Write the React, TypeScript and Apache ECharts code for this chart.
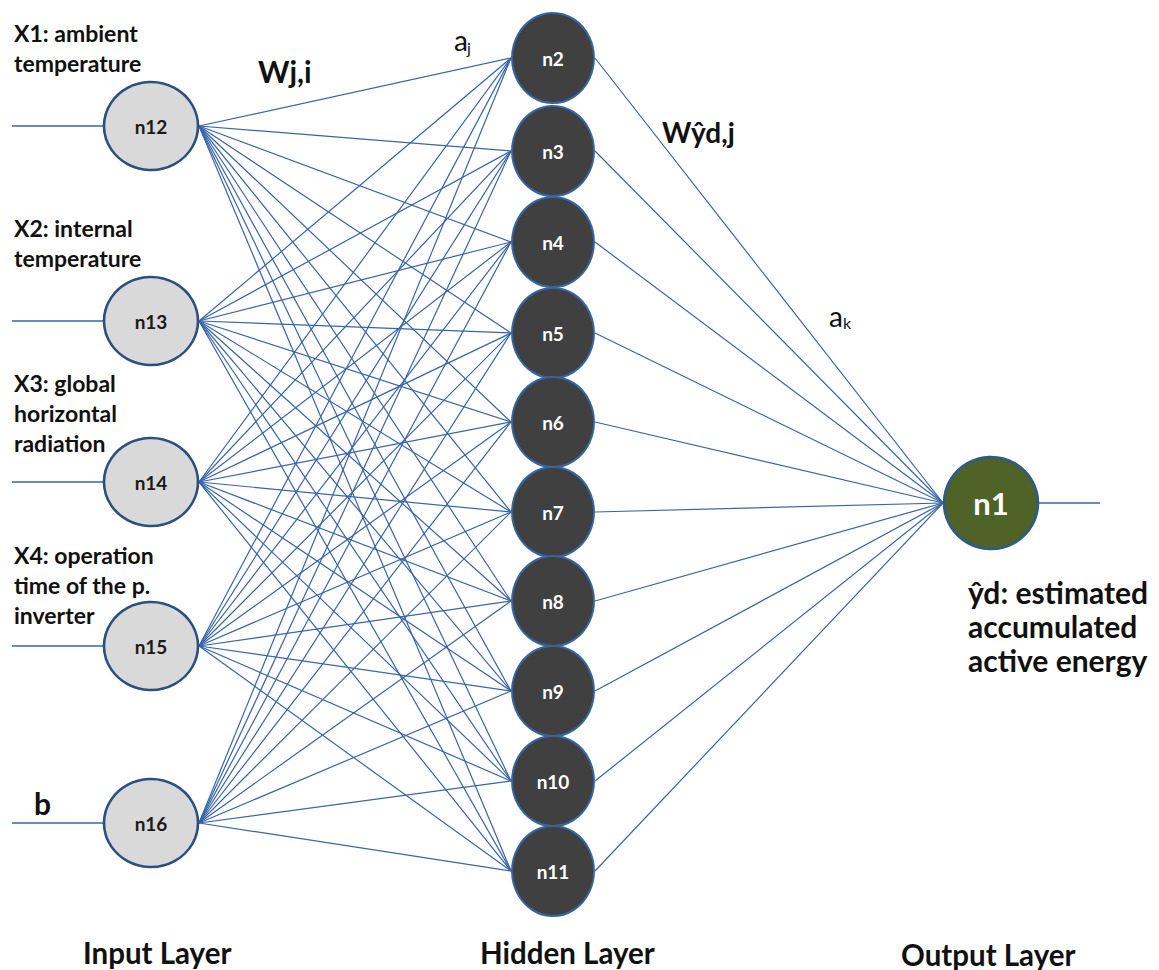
import React, { useEffect, useRef } from "react";
import * as echarts from "echarts";

// ---- diagram data ----
const inputNodes = ["n12", "n13", "n14", "n15", "n16"];
const inputY = [126, 321, 482, 646, 823];
const hiddenNodes = ["n2", "n3", "n4", "n5", "n6", "n7", "n8", "n9", "n10", "n11"];
const hiddenY = [58, 151, 242, 333, 422, 512, 601, 691, 781, 871];
const outputNodes = ["n1"];
const outputY = [503];
const layerX = [151, 553, 991];
const inputLabels = [
  "X1: ambient\ntemperature",
  "X2: internal\ntemperature",
  "X3: global\nhorizontal\nradiation",
  "X4: operation\ntime of the p.\ninverter",
  "b",
];
const inputLabelTop = [18, 213, 368, 540, 788];
const layerTitles = ["Input Layer", "Hidden Layer", "Output Layer"];
const outputLabel = "ŷd: estimated\naccumulated\nactive energy";

const W = 1159;
const H = 970;
const FONT = "Lato, 'Open Sans', sans-serif";
const EDGE = "#3864a8";

const inSize = [94, 88];
const hidSize = [82, 90];
const outSize = [94, 92];

export default function App() {
  const ref = useRef<HTMLDivElement>(null);
  useEffect(() => {
    if (!ref.current) return;
    const chart = echarts.init(ref.current, undefined, { renderer: "svg" });

    const inEdges: any[] = [];
    inputY.forEach((iy) => {
      hiddenY.forEach((hy) => {
        inEdges.push({
          coords: [
            [layerX[0] + inSize[0] / 2 + 1, iy],
            [layerX[1] - hidSize[0] / 2 - 1, hy],
          ],
        });
      });
    });
    const outEdges: any[] = [];
    hiddenY.forEach((hy) => {
      outputY.forEach((oy) => {
        outEdges.push({
          coords: [
            [layerX[1] + hidSize[0] / 2 + 1, hy],
            [layerX[2] - outSize[0] / 2 - 1, oy],
          ],
        });
      });
    });
    const stubs: any[] = inputY.map((iy) => ({
      coords: [
        [12, iy],
        [layerX[0] - inSize[0] / 2, iy],
      ],
    }));
    outputY.forEach((oy) =>
      stubs.push({
        coords: [
          [layerX[2] + outSize[0] / 2, oy],
          [1100, oy],
        ],
      })
    );

    const t = (text: string, x: number, y: number, size: number, weight: any, extra: any = {}) => ({
      type: "text",
      x,
      y,
      z: 100,
      style: {
        text,
        fill: "#111",
        fontFamily: FONT,
        fontSize: size,
        fontWeight: weight,
        textVerticalAlign: "middle",
        ...extra,
      },
    });

    const graphics: any[] = [];
    inputLabels.forEach((lab, i) => {
      const isB = lab === "b";
      graphics.push({
        type: "text",
        x: isB ? 34 : 14,
        y: inputLabelTop[i],
        z: 100,
        style: {
          text: lab,
          fill: "#111",
          fontFamily: FONT,
          fontSize: isB ? 30 : 23,
          fontWeight: "bold",
          lineHeight: 30,
          textVerticalAlign: "top",
        },
      });
    });
    graphics.push(t("Wj,i", 258, 71, 30, "bold"));
    graphics.push(t("a", 454, 40, 28, "normal"));
    graphics.push(t("j", 467, 47, 16, "normal"));
    graphics.push(t("Wŷd,j", 662, 132, 28, "bold"));
    graphics.push(t("a", 829, 316, 28, "normal"));
    graphics.push(t("k", 843, 322, 16, "normal"));
    graphics.push({
      type: "text",
      x: 968,
      y: 575,
      z: 100,
      style: {
        text: outputLabel,
        fill: "#111",
        fontFamily: FONT,
        fontSize: 30,
        fontWeight: "bold",
        lineHeight: 34,
        textVerticalAlign: "top",
      },
    });
    graphics.push(t(layerTitles[0], 83, 952, 29.5, "bold", { lineHeight: 29 }));
    graphics.push(t(layerTitles[1], 480, 952, 29.5, "bold", { lineHeight: 29 }));
    graphics.push(t(layerTitles[2], 901, 954, 29.5, "bold", { lineHeight: 29 }));

    const option: any = {
      animation: false,
      backgroundColor: "#ffffff",
      grid: { left: 0, right: 0, top: 0, bottom: 0 },
      xAxis: { type: "value", min: 0, max: W, show: false },
      yAxis: { type: "value", min: 0, max: H, inverse: true, show: false },
      series: [
        {
          type: "lines",
          coordinateSystem: "cartesian2d",
          data: [...inEdges, ...outEdges],
          lineStyle: { color: EDGE, width: 1.2, opacity: 1 },
          z: 1,
        },
        {
          type: "lines",
          coordinateSystem: "cartesian2d",
          data: stubs,
          lineStyle: { color: EDGE, width: 1.6, opacity: 1 },
          z: 1,
        },
        {
          type: "scatter",
          symbol: "circle",
          symbolSize: inSize,
          z: 5,
          data: inputNodes.map((n, i) => ({ name: n, value: [layerX[0], inputY[i]] })),
          itemStyle: { color: "#d9d9d9", borderColor: "#2b4f80", borderWidth: 2.5, opacity: 1 },
          label: {
            show: true,
            position: "inside",
            formatter: "{b}",
            color: "#1a1a1a",
            fontFamily: FONT,
            fontWeight: "bold",
            fontSize: 19,
          },
        },
        {
          type: "scatter",
          symbol: "circle",
          symbolSize: hidSize,
          z: 5,
          data: hiddenNodes.map((n, i) => ({ name: n, value: [layerX[1], hiddenY[i]] })),
          itemStyle: { color: "#404040", borderColor: "#3565a3", borderWidth: 2, opacity: 1 },
          label: {
            show: true,
            position: "inside",
            formatter: "{b}",
            color: "#ffffff",
            fontFamily: FONT,
            fontWeight: "bold",
            fontSize: 19,
          },
        },
        {
          type: "scatter",
          symbol: "circle",
          symbolSize: outSize,
          z: 5,
          data: outputNodes.map((n, i) => ({ name: n, value: [layerX[2], outputY[i]] })),
          itemStyle: { color: "#4f6228", borderColor: "#2f5a8e", borderWidth: 2.5, opacity: 1 },
          label: {
            show: true,
            position: "inside",
            formatter: "{b}",
            color: "#ffffff",
            fontFamily: FONT,
            fontWeight: "bold",
            fontSize: 31,
          },
        },
      ],
      graphic: graphics,
    };
    chart.setOption(option);
    return () => chart.dispose();
  }, []);
  return (
    <div
      ref={ref}
      style={{ position: "absolute", left: 0, top: 0, width: W, height: H, background: "#fff" }}
    />
  );
}
